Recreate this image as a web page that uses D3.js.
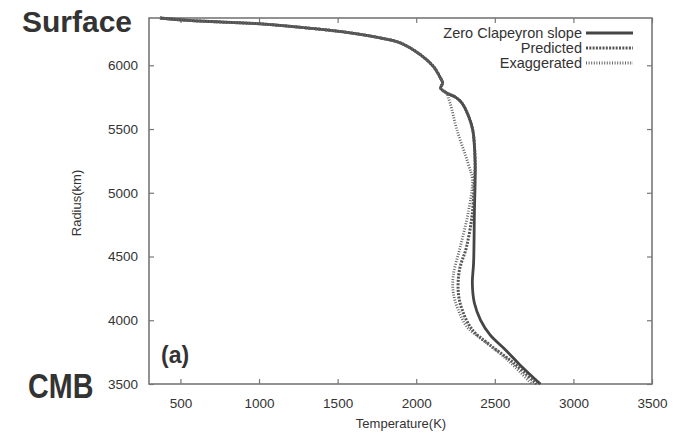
<!DOCTYPE html>
<html>
<head>
<meta charset="utf-8">
<script src="https://cdn.jsdelivr.net/npm/d3@7"></script>
<style>
  body { margin: 0; background: #fff; }
  svg text { font-family: "Liberation Sans", Arial, sans-serif; fill: #333; }
</style>
</head>
<body>
<div id="chart"></div>
<script>
//Datos
const xTicks = [500, 1000, 1500, 2000, 2500, 3000, 3500];
const yTicks = [3500, 4000, 4500, 5000, 5500, 6000];

const zeroTemp = [370,520,750,1010,1330,1580,1770,1900,2030,2110,2150,2168,2155,2190,2250,2290,2330,2360,2375,2370,2365,2357,2370,2410,2470,2570,2660,2790];
const zeroRadius = [6371,6355,6340,6325,6290,6255,6215,6175,6080,5990,5910,5860,5822,5785,5750,5705,5610,5490,5230,4840,4450,4290,4135,4000,3885,3765,3650,3500];

const predTemp = [370,520,750,1010,1330,1580,1770,1900,2030,2110,2150,2168,2155,2190,2250,2290,2330,2360,2375,2370,2357,2320,2275,2268,2293,2357,2470,2620,2765];
const predRadius = [6371,6355,6340,6325,6290,6255,6215,6175,6080,5990,5910,5860,5822,5785,5750,5705,5610,5490,5230,5100,4840,4575,4395,4215,4080,3925,3805,3665,3500];

const exagTemp = [370,520,750,1010,1330,1580,1770,1900,2030,2110,2150,2168,2155,2190,2215,2260,2330,2357,2330,2280,2236,2236,2268,2325,2440,2580,2735];
const exagRadius = [6371,6355,6340,6325,6290,6255,6215,6175,6080,5990,5910,5860,5822,5785,5705,5490,5230,5100,4840,4575,4355,4215,4080,3945,3830,3690,3500];

const seriesNames = ['Zero Clapeyron slope', 'Predicted', 'Exaggerated'];

let margin = {top: 18, right: 22, bottom: 51, left: 149},
    width = 674 - margin.left - margin.right,
    height = 435 - margin.top - margin.bottom;

let svg = d3.select('#chart').append('svg')
    .attr('width', 674)
    .attr('height', 435);

let g = svg.append('g')
    .attr('transform', 'translate(' + margin.left + ',' + margin.top + ')');

let x = d3.scaleLinear().domain([300, 3500]).range([0, width]);
let y = d3.scaleLinear().domain([3500, 6371]).range([height, 0]);

//Ejes (ticks hacia dentro, estilo gnuplot)
g.append('g')
    .attr('transform', 'translate(0,' + height + ')')
    .call(d3.axisBottom(x).tickValues(xTicks).tickSize(-5).tickPadding(14).tickFormat(d3.format('d')))
    .call(ax => ax.select('.domain').remove());
g.append('g')
    .call(d3.axisTop(x).tickValues(xTicks).tickSize(-5).tickFormat(''))
    .call(ax => ax.select('.domain').remove());
g.append('g')
    .call(d3.axisLeft(y).tickValues(yTicks).tickSize(-5).tickPadding(11).tickFormat(d3.format('d')))
    .call(ax => ax.select('.domain').remove());
g.append('g')
    .attr('transform', 'translate(' + width + ',0)')
    .call(d3.axisRight(y).tickValues(yTicks).tickSize(-5).tickFormat(''))
    .call(ax => ax.select('.domain').remove());

g.selectAll('.tick line').attr('stroke', '#777').attr('stroke-width', 1.2);
g.selectAll('.tick text').style('font-size', '13.5px').attr('fill', '#333');

g.append('rect')
    .attr('width', width)
    .attr('height', height)
    .attr('fill', 'none')
    .attr('stroke', '#777')
    .attr('stroke-width', 1.6);

//Curvas
let line = d3.line()
    .x(d => x(d[0]))
    .y(d => y(d[1]))
    .curve(d3.curveCatmullRom.alpha(0.5));

let styles = [
    {color: '#454545', width: 2.8, dash: null},
    {color: '#555', width: 3, dash: '2,1.3'},
    {color: '#666', width: 2.8, dash: '1,1.6'}
];

let series = [
    d3.zip(zeroTemp, zeroRadius),
    d3.zip(predTemp, predRadius),
    d3.zip(exagTemp, exagRadius)
];

series.forEach(function(s, i) {
    g.append('path')
        .datum(s)
        .attr('d', line)
        .attr('fill', 'none')
        .attr('stroke', styles[i].color)
        .attr('stroke-width', styles[i].width)
        .attr('stroke-dasharray', styles[i].dash);
});

//Leyenda
let legend = g.append('g').attr('transform', 'translate(' + (582 - margin.left) + ',' + (33 - margin.top) + ')');
seriesNames.forEach(function(name, i) {
    legend.append('text')
        .attr('x', 0)
        .attr('y', i * 15 + 5)
        .attr('text-anchor', 'end')
        .style('font-size', '14.5px')
        .text(name);
    legend.append('line')
        .attr('x1', 4).attr('x2', 51)
        .attr('y1', i * 15).attr('y2', i * 15)
        .attr('stroke', styles[i].color)
        .attr('stroke-width', styles[i].width)
        .attr('stroke-dasharray', styles[i].dash);
});

//Titulos de ejes
svg.append('text')
    .attr('x', 401).attr('y', 428)
    .attr('text-anchor', 'middle')
    .style('font-size', '13px')
    .text('Temperature(K)');

svg.append('text')
    .attr('transform', 'translate(81,203) rotate(-90)')
    .attr('text-anchor', 'middle')
    .style('font-size', '13px')
    .text('Radius(km)');

//Etiquetas grandes
svg.append('text')
    .attr('x', 22).attr('y', 32)
    .style('font-size', '30px')
    .style('font-weight', 'bold')
    .attr('fill', '#111')
    .text('Surface');

svg.append('text')
    .attr('transform', 'translate(28,398) scale(0.82,1)')
    .style('font-size', '35px')
    .style('font-weight', 'bold')
    .attr('fill', '#111')
    .text('CMB');

svg.append('text')
    .attr('x', 161).attr('y', 363)
    .style('font-size', '23px')
    .style('font-weight', 'bold')
    .attr('fill', '#111')
    .text('(a)');
</script>
</body>
</html>
